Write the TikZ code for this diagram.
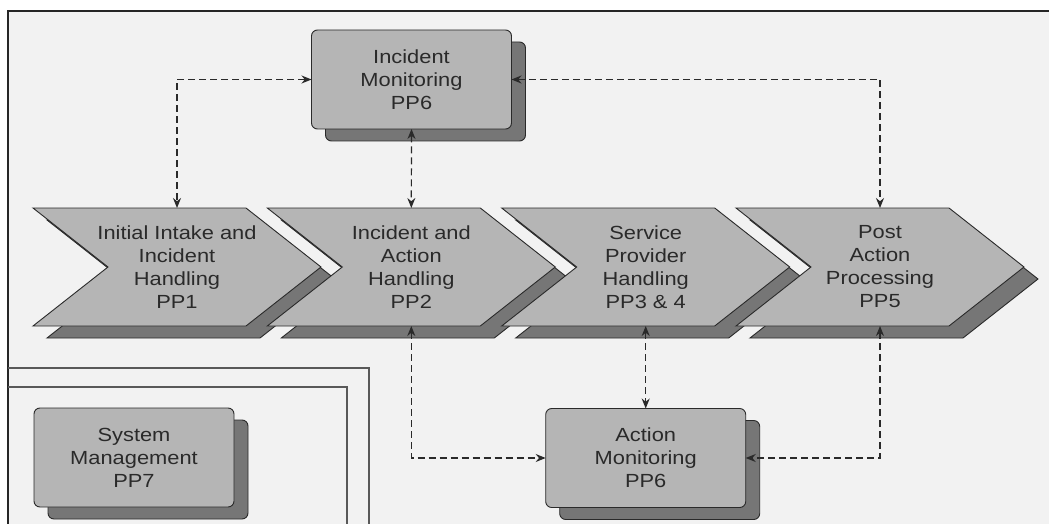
\documentclass[tikz,border=0pt]{standalone}
\usepackage{fontspec}
\setmainfont[FakeStretch=1.15]{Liberation Sans}
\usetikzlibrary{arrows.meta,shadows}

\definecolor{paper}{HTML}{F2F2F2}
\definecolor{panel}{HTML}{B5B5B5}
\definecolor{panelshade}{HTML}{767676}
\definecolor{ink}{HTML}{2A2A2A}

\begin{document}
\begin{tikzpicture}[x=1pt,y=-1pt,
  boxtext/.style={font=\fontsize{19}{23}\selectfont, text=ink, align=center},
  % process panel outline, shadow first, then the face
  arrowpanel/.pic={
    \filldraw[fill=panelshade, draw=ink, line width=0.9pt, line join=miter]
      (14,12) -- ++(213,0) -- ++(75,59) -- ++(-75,59) -- ++(-213,0) -- ++(75,-59) -- cycle;
    \filldraw[fill=panel, draw=ink, line width=0.9pt, line join=miter]
      (0,0) -- ++(213,0) -- ++(75,59) -- ++(-75,59) -- ++(-213,0) -- ++(75,-59) -- cycle;
  },
  panelcap/.style={boxtext, rectangle, inner sep=0pt, outer sep=0pt,
    minimum width=288pt, minimum height=118pt},
  monbox/.style={boxtext, rectangle, rounded corners=6pt, draw=ink, line width=0.9pt,
    fill=panel, inner sep=0pt, outer sep=0pt, minimum width=200pt, minimum height=99pt,
    drop shadow={shadow xshift=14pt, shadow yshift=-12pt, fill=panelshade,
      draw=ink, line width=0.9pt, opacity=1, rounded corners=6pt}},
  link/.style={draw=ink, line width=1.2pt, dash pattern=on 7pt off 4pt,
    {Stealth[length=10pt,width=8pt]}-{Stealth[length=10pt,width=8pt]}}
]
\useasboundingbox (0,0) rectangle (1049,524);
\fill[white] (0,0) rectangle (1049,524);
\fill[paper] (8,11) rectangle (1049,524);

% page frame and the management panel outlines
\draw[line width=2.2pt, draw=black!85] (8,524) -- (8,11) -- (1049,11);
\draw[line width=1.1pt, draw=black!65] (8,368) -- (369,368) -- (369,524);
\draw[line width=1.1pt, draw=black!65] (8,387) -- (347,387) -- (347,524);

% process chain
\pic at (33,208) {arrowpanel};
\pic at (267.3,208) {arrowpanel};
\pic at (501.7,208) {arrowpanel};
\pic at (736,208) {arrowpanel};

\node[panelcap] (pp1) at (177,267) {Initial Intake and\\Incident\\Handling\\PP1};
\node[panelcap] (pp2) at (411.3,267) {Incident and\\Action\\Handling\\PP2};
\node[panelcap] (pp34) at (645.7,267) {Service\\Provider\\Handling\\PP3 \& 4};
\node[panelcap] (pp5) at (880,267) {Post\\Action\\Processing\\PP5};

% monitoring and management boxes
\node[monbox] (im) at (411.5,79.5) {Incident\\Monitoring\\PP6};
\node[monbox] (am) at (645.7,458) {Action\\Monitoring\\PP6};
\node[monbox] (sm) at (134,457.5) {System\\Management\\PP7};

% monitoring links
\draw[link] (im.west) -| (pp1.north);
\draw[link] (im.south) -- (pp2.north);
\draw[link] (im.east) -| (pp5.north);
\draw[link] (pp2.south) |- (am.west);
\draw[link] (pp34.south) -- (am.north);
\draw[link] (pp5.south) |- (am.east);
\end{tikzpicture}
\end{document}
